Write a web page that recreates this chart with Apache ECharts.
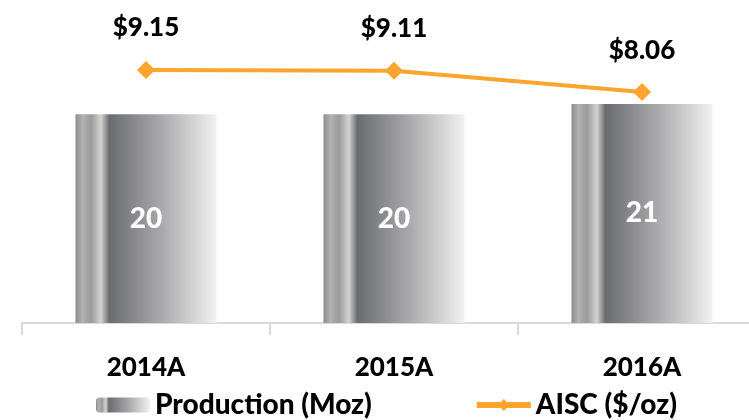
<!DOCTYPE html>
<html>
<head>
<meta charset="utf-8">
<script src="https://cdn.jsdelivr.net/npm/echarts@6/dist/echarts.min.js"></script>
<style>html,body{margin:0;padding:0;background:#fff;overflow:hidden;width:749px;height:420px;}#c{width:766px;height:420px;}</style>
</head>
<body>
<div id="c"></div>
<script>
var categories = ['2014A', '2015A', '2016A'];
var production = [20, 20, 21];
var aisc = [9.15, 9.11, 8.06];
var seriesNames = ['Production (Moz)', 'AISC ($/oz)'];

var FONT = 'Lato';
var W = 900;
var barGradient = new echarts.graphic.LinearGradient(0, 0, 1, 0, [
  {offset: 0, color: '#8c8c8c'},
  {offset: 0.05, color: '#b2b2b2'},
  {offset: 0.11, color: '#9a9a9a'},
  {offset: 0.18, color: '#d4d4d4'},
  {offset: 0.24, color: '#6b6c71'},
  {offset: 0.6, color: '#a8a8aa'},
  {offset: 1, color: '#f2f2f2'}
]);

var chart = echarts.init(document.getElementById('c'));
chart.setOption({
  animation: false,
  textStyle: {fontFamily: FONT},
  grid: {left: 22, right: 0, top: 10, bottom: 97, containLabel: false},
  legend: {
    bottom: -4,
    left: 91,
    itemWidth: 54,
    itemHeight: 15,
    itemGap: 102,
    textStyle: {fontFamily: FONT, fontWeight: W, fontSize: 28, color: '#000'},
    data: [
      {name: seriesNames[0]},
      {name: seriesNames[1], lineStyle: {width: 6}}
    ]
  },
  xAxis: {
    type: 'category',
    data: categories,
    axisLine: {lineStyle: {color: '#d9d9d9', width: 2}},
    axisTick: {show: true, length: 12, lineStyle: {color: '#d9d9d9', width: 2}},
    axisLabel: {fontFamily: FONT, fontWeight: W, fontSize: 26, color: '#000', margin: 32}
  },
  yAxis: [
    {type: 'value', min: 0, max: 30, show: false, splitLine: {show: false}},
    {type: 'value', min: -3.3, max: 12.1, show: false, splitLine: {show: false}}
  ],
  series: [
    {
      name: seriesNames[0],
      type: 'bar',
      data: production,
      barWidth: 141,
      itemStyle: {color: barGradient},
      label: {show: true, position: 'inside', color: '#fff', fontFamily: FONT, fontWeight: W, fontSize: 28}
    },
    {
      name: seriesNames[1],
      type: 'line',
      yAxisIndex: 1,
      data: aisc,
      symbol: 'diamond',
      symbolSize: 18,
      lineStyle: {color: '#fba52f', width: 4},
      itemStyle: {color: '#fba52f'},
      label: {show: true, position: 'top', distance: 20, color: '#000', fontFamily: FONT, fontWeight: W, fontSize: 26,
        formatter: function (p) { return '$' + p.value.toFixed(2); }}
    }
  ]
});
</script>
</body>
</html>
